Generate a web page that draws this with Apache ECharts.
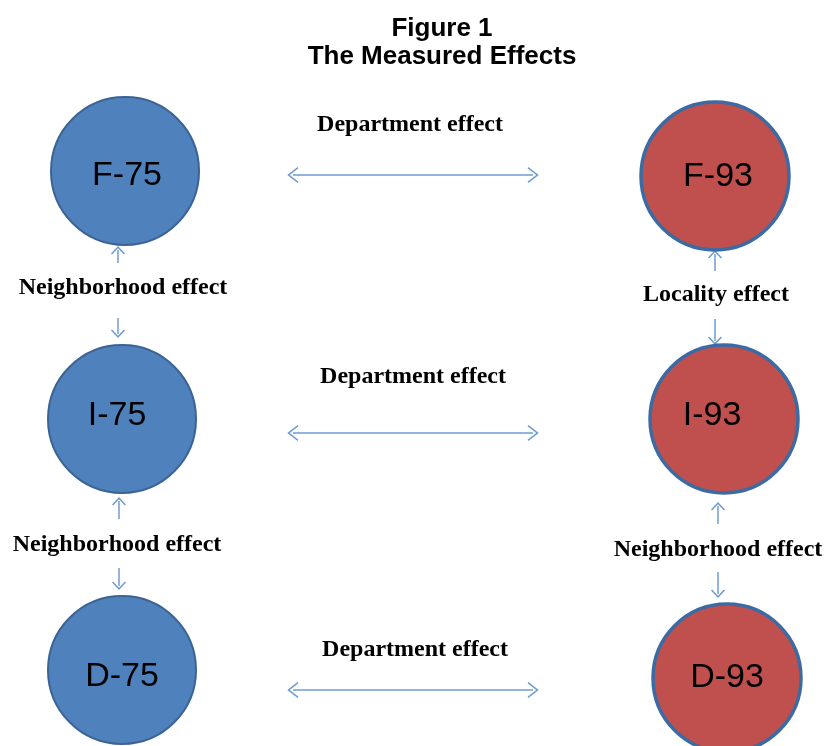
<!DOCTYPE html>
<html>
<head>
<meta charset="utf-8">
<script src="https://cdn.jsdelivr.net/npm/echarts@6/dist/echarts.min.js"></script>
<style>
html,body{margin:0;padding:0;background:#fff;}
#chart{width:826px;height:746px;}
</style>
</head>
<body>
<div id="chart"></div>
<script>
// ---- diagram data ----
var nodeNames = ['F-75', 'I-75', 'D-75', 'F-93', 'I-93', 'D-93'];
var nodeX = [125, 122, 122, 715, 724, 727];
var nodeY = [171, 419, 670, 176, 419, 678];
var nodeGroup = ['75', '75', '75', '93', '93', '93'];

var deptLabels = ['Department effect', 'Department effect', 'Department effect'];
var deptLabelX = [410, 413, 415];
var deptLabelY = [125, 377, 650];
var deptArrowX0 = [293, 293, 293];
var deptArrowX1 = [533, 533, 533];
var deptArrowY = [175, 433, 690];

var sideLabels = ['Neighborhood effect', 'Neighborhood effect', 'Locality effect', 'Neighborhood effect'];
var sideLabelX = [123, 117, 716, 718];
var sideLabelY = [288, 545, 295, 550];
// single-headed arrows: tail (x, y0) -> tip (x, y1)
var vArrowX  = [118, 118, 119, 119, 715, 715, 718, 718];
var vArrowY0 = [263, 318, 519, 568, 271, 319, 524, 572];
var vArrowY1 = [250, 334, 501, 586, 254, 341, 506, 594];

var titleLines = ['Figure 1', 'The Measured Effects'];

// ---- layout / style ----
var W = 826, H = 746;
var groupFill = { '75': '#4f81bd', '93': '#c0504d' };
var groupBorder = { '75': '#3b6394', '93': '#3c6aa3' };
var groupBorderW = { '75': 2, '93': 3.5 };
var nodeLabelShift = { 'F-75': [2, 5], 'I-75': [-5, -3], 'D-75': [0, 7], 'F-93': [3, 1], 'I-93': [-12, -3], 'D-93': [0, 0] };

var nodeData = nodeNames.map(function (n, i) {
  return {
    name: n,
    value: [nodeX[i], nodeY[i]],
    itemStyle: { color: groupFill[nodeGroup[i]], borderColor: groupBorder[nodeGroup[i]], borderWidth: groupBorderW[nodeGroup[i]], opacity: 1 },
    label: { offset: nodeLabelShift[n] }
  };
});

var deptLineData = deptArrowY.map(function (y, i) {
  return { coords: [[deptArrowX0[i], y], [deptArrowX1[i], y]] };
});
var vLineData = vArrowX.map(function (x, i) {
  return { coords: [[x, vArrowY0[i]], [x, vArrowY1[i]]] };
});

var textData = [];
deptLabels.forEach(function (t, i) { textData.push({ name: t, value: [deptLabelX[i], deptLabelY[i]] }); });
sideLabels.forEach(function (t, i) { textData.push({ name: t, value: [sideLabelX[i], sideLabelY[i]] }); });

// open chevrons pointing up, padded to a square box so they are not stretched
var chevron = 'path://M7,0L7,0M7,14L7,14M7,3L14,10.5L12.9,11.4L7,5.2L1.1,11.4L0,10.5Z';
var chevronDeep = 'path://M7,0L7,0M7,14L7,14M7,2L14,11L13,11.8L7,4.2L1,11.8L0,11Z';
var arrowColor = '#6f9bd3';

var option = {
  animation: false,
  backgroundColor: '#ffffff',
  title: {
    text: titleLines.join('\n'),
    left: 437,
    top: 10,
    textAlign: 'center',
    textStyle: { fontFamily: 'Liberation Sans, Arial', fontWeight: 'bold', fontSize: 26, color: '#000', lineHeight: 28 }
  },
  grid: { left: 0, right: 0, top: 0, bottom: 0 },
  xAxis: { type: 'value', min: 0, max: W, show: false },
  yAxis: { type: 'value', min: 0, max: H, inverse: true, show: false },
  series: [
    {
      type: 'lines',
      coordinateSystem: 'cartesian2d',
      data: deptLineData,
      symbol: [chevronDeep, chevronDeep],
      symbolSize: 16,
      lineStyle: { color: arrowColor, width: 1.5, opacity: 1 },
      silent: true,
      z: 2
    },
    {
      type: 'lines',
      coordinateSystem: 'cartesian2d',
      data: vLineData,
      symbol: ['none', chevron],
      symbolSize: 14,
      lineStyle: { color: arrowColor, width: 1.5, opacity: 1 },
      silent: true,
      z: 2
    },
    {
      type: 'scatter',
      data: nodeData,
      symbol: 'circle',
      symbolSize: 148,
      itemStyle: { opacity: 1 },
      label: {
        show: true,
        position: 'inside',
        formatter: '{b}',
        fontFamily: 'Liberation Sans, Arial',
        fontSize: 34,
        color: '#000'
      },
      emphasis: { disabled: true },
      silent: true,
      z: 3
    },
    {
      type: 'scatter',
      data: textData,
      symbolSize: 0,
      itemStyle: { opacity: 1 },
      label: {
        show: true,
        position: 'inside',
        formatter: '{b}',
        fontFamily: 'Liberation Serif, Times New Roman',
        fontWeight: 'bold',
        fontSize: 24,
        color: '#000'
      },
      emphasis: { disabled: true },
      silent: true,
      z: 4
    }
  ]
};

var chart = echarts.init(document.getElementById('chart'), null, { renderer: 'canvas' });
chart.setOption(option);
</script>
</body>
</html>
